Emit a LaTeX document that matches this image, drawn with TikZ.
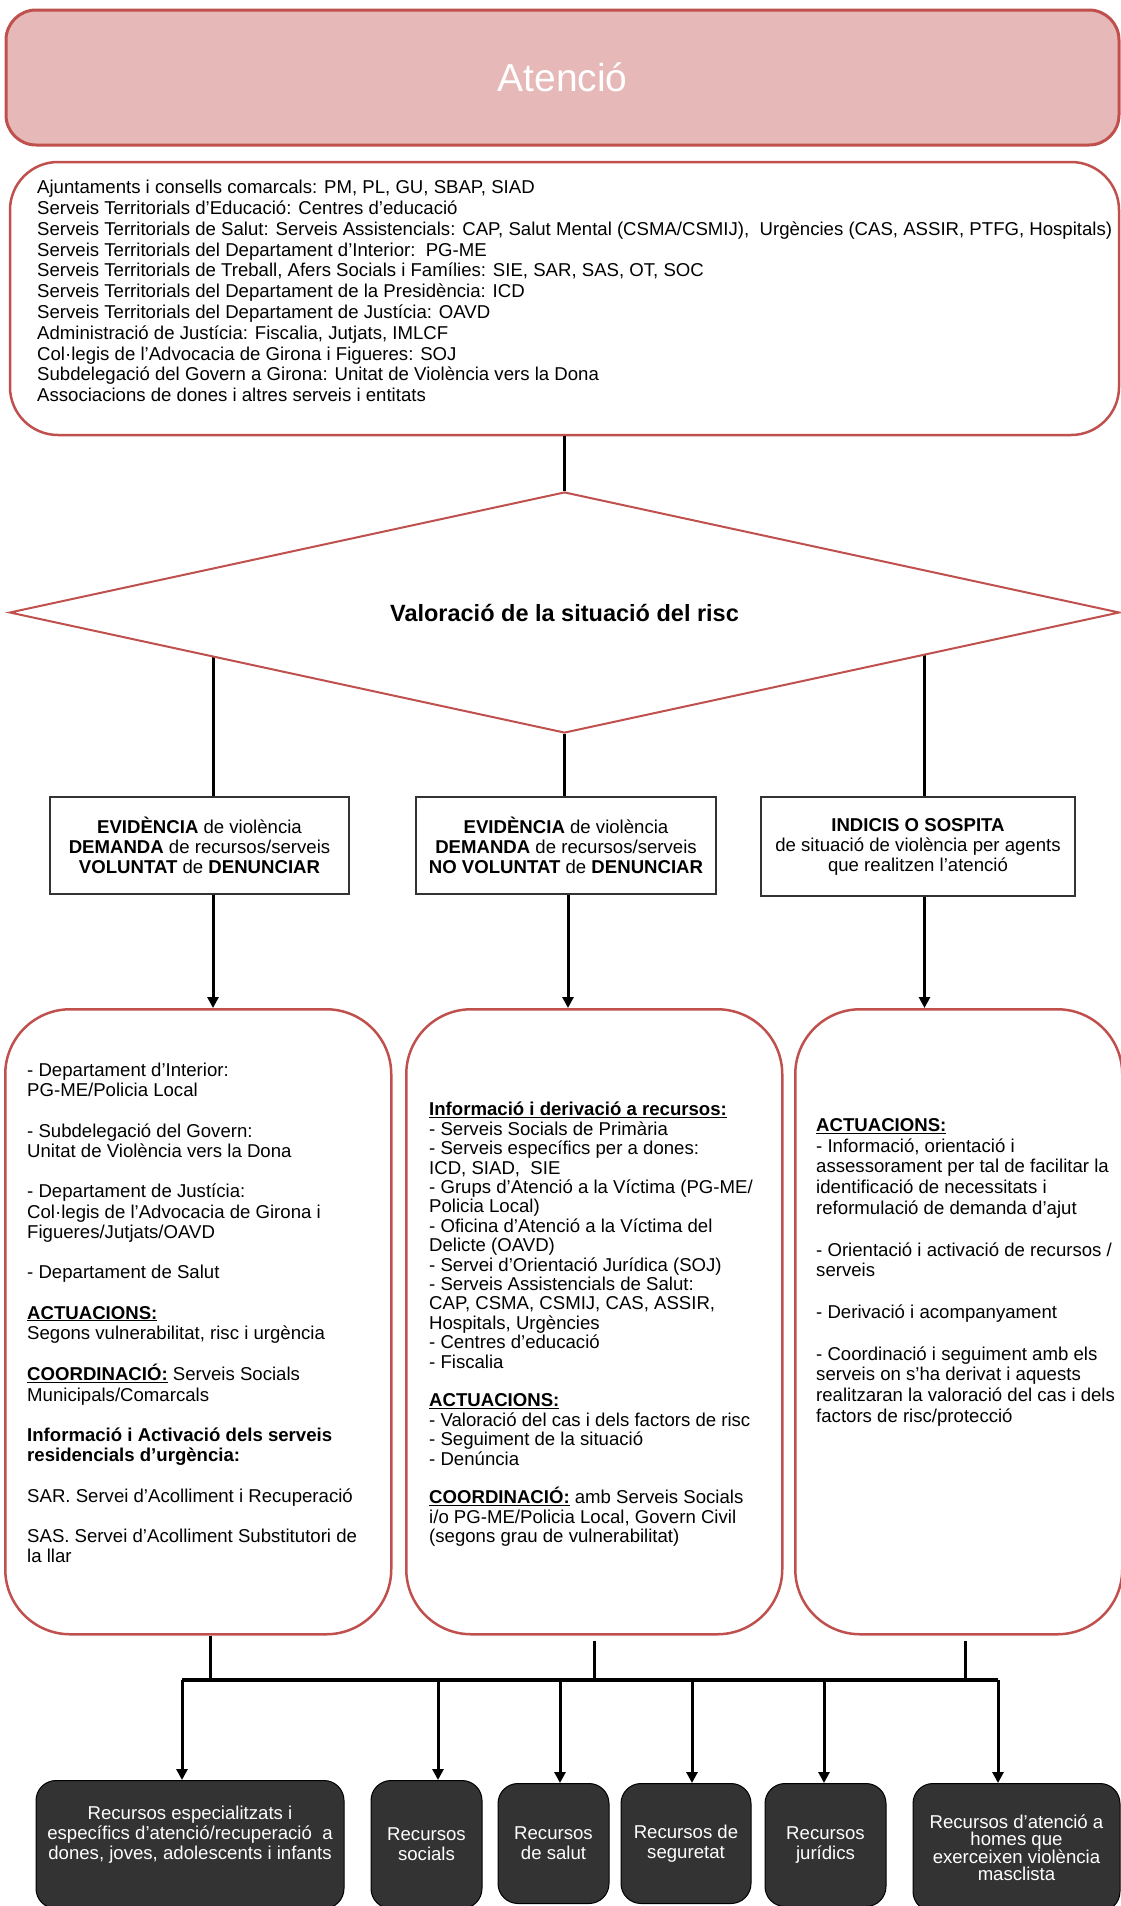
\documentclass[tikz,border=0pt]{standalone}
\usepackage{fontspec}
\setmainfont{Liberation Sans}
\usetikzlibrary{arrows.meta,shapes.geometric,backgrounds}

\definecolor{redline}{HTML}{C0504D}
\definecolor{pinkfill}{HTML}{E6B8B7}
\definecolor{darkfill}{HTML}{333333}

\newcommand\txtfont[1]{\fontsize{18.6}{#1}\selectfont}

\tikzset{
  headbox/.style={draw=redline, line width=3pt, fill=pinkfill, rounded corners=30pt,
    text=white, font=\fontsize{39}{44}\selectfont},
  orgbox/.style={draw=redline, line width=2.5pt, fill=white, rounded corners=48pt},
  riskbox/.style={diamond, shape aspect=4.6, draw=redline, line width=2pt, fill=white, inner sep=0pt,
    font=\fontsize{23.5}{26}\selectfont\bfseries},
  casebox/.style={draw=black!80, line width=1.2pt, fill=white, align=center, font=\txtfont{20}},
  bigbox/.style={draw=redline, line width=2.5pt, rounded corners=65pt, anchor=north west},
  boxtext/.style={anchor=north west, inner sep=0pt, align=left},
  resbox/.style={draw=black, line width=1pt, fill=darkfill, rounded corners=20pt,
    text=white, align=center, anchor=north, font=\txtfont{20}},
  link/.style={line width=3pt},
  linkarrow/.style={line width=3pt, -{Triangle[length=11pt,width=11pt]}},
}

\begin{document}
\begin{tikzpicture}[x=1pt, y=-1pt]
\useasboundingbox (0,0) rectangle (1121,1906);

% capcalera
\node[headbox, minimum width=1113pt, minimum height=135pt] (atencio) at (562.5,77.5) {Atenció};

% serveis que atenen
\node[orgbox, minimum width=1109pt, minimum height=273pt] (org) at (564.5,298.5) {};
\node[boxtext, font=\txtfont{20.8}] (orgtext) at (37,180) {Ajuntaments i consells comarcals: PM, PL, GU, SBAP, SIAD\\
Serveis Territorials d'Educació: Centres d'educació\\
Serveis Territorials de Salut: Serveis Assistencials: CAP, Salut Mental (CSMA/CSMIJ),\ \ Urgències (CAS, ASSIR, PTFG, Hospitals)\\
Serveis Territorials del Departament d'Interior:\ \ PG-ME\\
Serveis Territorials de Treball, Afers Socials i Famílies: SIE, SAR, SAS, OT, SOC\\
Serveis Territorials del Departament de la Presidència: ICD\\
Serveis Territorials del Departament de Justícia: OAVD\\
Administració de Justícia: Fiscalia, Jutjats, IMLCF\\
Col·legis de l'Advocacia de Girona i Figueres: SOJ\\
Subdelegació del Govern a Girona: Unitat de Violència vers la Dona\\
Associacions de dones i altres serveis i entitats};

% valoracio del risc
\node[riskbox, minimum width=1110pt, minimum height=241pt] (risk) at (564.5,612.5) {Valoració de la situació del risc};
\draw[link] (org.south) -- (risk.north);

% tres situacions
\node[casebox, minimum width=299pt, minimum height=97pt] (caseA) at (199.5,845.5)
  {\textbf{EVIDÈNCIA} de violència\\\textbf{DEMANDA} de recursos/serveis\\\textbf{VOLUNTAT} de \textbf{DENUNCIAR}};
\node[casebox, minimum width=300pt, minimum height=97pt] (caseB) at (566,845.5)
  {\textbf{EVIDÈNCIA} de violència\\\textbf{DEMANDA} de recursos/serveis\\\textbf{NO VOLUNTAT} de \textbf{DENUNCIAR}};
\node[casebox, minimum width=314pt, minimum height=99pt] (caseC) at (918,846.5)
  {\textbf{INDICIS O SOSPITA}\\de situació de violència per agents\\que realitzen l’atenció};

\coordinate (lineA) at ([xshift=13.5pt]caseA.north);
\coordinate (lineB) at ([xshift=2pt]caseB.north);
\coordinate (lineC) at ([xshift=6.5pt]caseC.north);
\begin{scope}[on background layer]
  \draw[link] (lineA) -- (lineA |- risk.center);
  \draw[link] (lineC) -- (lineC |- risk.center);
\end{scope}
\draw[link] (risk.south) -- (risk.south |- caseB.north);

% recursos per situacio
\node[bigbox, minimum width=386pt, minimum height=625pt] (bigL) at (4,1008) {};
\node[bigbox, minimum width=376pt, minimum height=625pt] (bigM) at (405,1008) {};
\node[bigbox, minimum width=327pt, minimum height=625pt] (bigR) at (794,1008) {};

\draw[linkarrow] (lineA |- caseA.south) -- (lineA |- bigL.north);
\draw[linkarrow] (lineB |- caseB.south) -- (lineB |- bigM.north);
\draw[linkarrow] (lineC |- caseC.south) -- (lineC |- bigR.north);

\node[boxtext, font=\txtfont{20.2}] (txtL) at (27,1063) {- Departament d'Interior:\\
PG-ME/Policia Local\\[\baselineskip]
- Subdelegació del Govern:\\
Unitat de Violència vers la Dona\\[\baselineskip]
- Departament de Justícia:\\
Col·legis de l’Advocacia de Girona i\\
Figueres/Jutjats/OAVD\\[\baselineskip]
- Departament de Salut\\[\baselineskip]
\underline{\textbf{ACTUACIONS:}}\\
Segons vulnerabilitat, risc i urgència\\[\baselineskip]
\underline{\textbf{COORDINACIÓ:}} Serveis Socials\\
Municipals/Comarcals\\[\baselineskip]
\textbf{Informació i Activació dels serveis}\\
\textbf{residencials d’urgència:}\\[\baselineskip]
SAR. Servei d’Acolliment i Recuperació\\[\baselineskip]
SAS. Servei d’Acolliment Substitutori de\\
la llar};

\node[boxtext, font=\txtfont{19.4}] (txtM) at (429,1102) {\underline{\textbf{Informació i derivació a recursos:}}\\
- Serveis Socials de Primària\\
- Serveis específics per a dones:\\
ICD, SIAD,\ \ SIE\\
- Grups d’Atenció a la Víctima (PG-ME/\\
Policia Local)\\
- Oficina d’Atenció a la Víctima del\\
Delicte (OAVD)\\
- Servei d’Orientació Jurídica (SOJ)\\
- Serveis Assistencials de Salut:\\
CAP, CSMA, CSMIJ, CAS, ASSIR,\\
Hospitals, Urgències\\
- Centres d’educació\\
- Fiscalia\\[\baselineskip]
\underline{\textbf{ACTUACIONS:}}\\
- Valoració del cas i dels factors de risc\\
- Seguiment de la situació\\
- Denúncia\\[\baselineskip]
\underline{\textbf{COORDINACIÓ:}} amb Serveis Socials\\
i/o PG-ME/Policia Local, Govern Civil\\
(segons grau de vulnerabilitat)};

\node[boxtext, font=\txtfont{20.8}] (txtR) at (816,1118) {\underline{\textbf{ACTUACIONS:}}\\
- Informació, orientació i\\
assessorament per tal de facilitar la\\
identificació de necessitats i\\
reformulació de demanda d’ajut\\[\baselineskip]
- Orientació i activació de recursos /\\
serveis\\[\baselineskip]
- Derivació i acompanyament\\[\baselineskip]
- Coordinació i seguiment amb els\\
serveis on s’ha derivat i aquests\\
realitzaran la valoració del cas i dels\\
factors de risc/protecció};

% recursos finals
\node[resbox, minimum width=308pt, minimum height=128pt] (res1) at (190,1780) {};
\node[text=white, align=center, font=\txtfont{20}] (res1text) at ([yshift=10pt]res1.center)
  {Recursos especialitzats i\\específics d’atenció/recuperació\ \ a\\dones, joves, adolescents i infants};
\node[resbox, minimum width=111pt, minimum height=128pt] (res2) at (426.5,1780) {Recursos\\socials};
\node[resbox, minimum width=111pt, minimum height=120pt] (res3) at (553.5,1783) {Recursos\\de salut};
\node[resbox, minimum width=130pt, minimum height=120pt] (res4) at (686,1783) {Recursos de\\seguretat};
\node[resbox, minimum width=121pt, minimum height=123pt] (res5) at (825.5,1783) {Recursos\\jurídics};
\node[resbox, minimum width=207pt, minimum height=128pt, font=\txtfont{17}] (res6) at (1016.5,1783)
  {Recursos d'atenció a\\homes que\\exerceixen violència\\masclista};

\coordinate (busL) at (182,1680);
\coordinate (busR) at (998,1680);
\coordinate (dropL) at ([xshift=12pt]bigL.south);
\coordinate (dropM) at ([yshift=-5pt]bigM.south);
\coordinate (dropR) at ([xshift=7pt,yshift=-5pt]bigR.south);
\draw[link] (dropL) -- (dropL |- busL);
\draw[link] (dropM) -- (dropM |- busL);
\draw[link] (dropR) -- (dropR |- busL);
\draw[line width=4pt] (busL) -- (busR);
\foreach \bx/\res in {182/res1, 438/res2, 560/res3, 692/res4, 824/res5, 998/res6}{
  \coordinate (tap-\res) at (\bx,1680);
  \draw[linkarrow] (tap-\res) -- (tap-\res |- \res.north);
}
\end{tikzpicture}
\end{document}
